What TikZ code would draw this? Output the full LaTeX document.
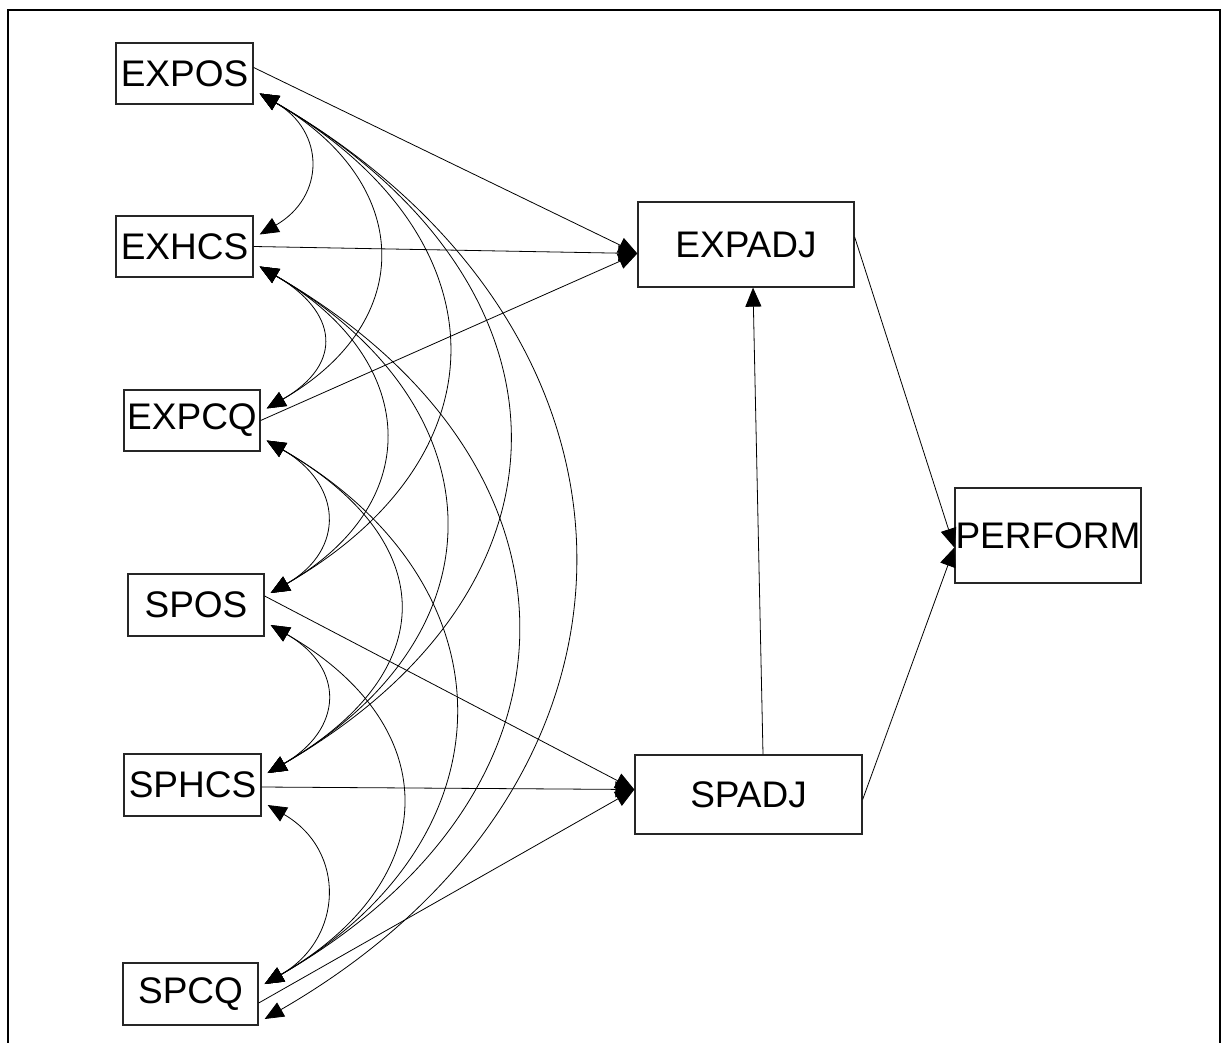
\documentclass[tikz,border=0pt]{standalone}
\usepackage{fontspec}
\setmainfont{Liberation Sans}
\usetikzlibrary{arrows.meta}

\begin{document}
\begin{tikzpicture}[x=1pt,y=1pt,
  var/.style={draw=black!85, line width=1.3pt, fill=white, inner sep=0pt,
    font=\fontsize{37}{40}\selectfont},
  tip/.tip={Triangle[length=19pt,width=16pt]},
  cov/.style={line width=0.8pt, {tip}-{tip}, out=-30, in=30},
  effect/.style={line width=0.8pt, -{tip}},
]
\useasboundingbox (0,0) rectangle (1228,-1043);
\fill[white] (0,0) rectangle (1228,-1043);
% outer frame
\draw[line width=2pt] (8,-1050) -- (8,-10) -- (1220,-10) -- (1220,-1050);

% observed variables
\node[var, minimum width=137pt, minimum height=61pt] (EXPOS) at (184.5,-73.5) {EXPOS};
\node[var, minimum width=137pt, minimum height=61pt] (EXHCS) at (184.5,-246.5) {EXHCS};
\node[var, minimum width=136pt, minimum height=61pt] (EXPCQ) at (192,-420.5) {EXPCQ};
\node[var, minimum width=136pt, minimum height=62pt] (SPOS) at (196,-605) {SPOS};
\node[var, minimum width=137pt, minimum height=62pt] (SPHCS) at (192.5,-785) {SPHCS};
\node[var, minimum width=135pt, minimum height=62pt] (SPCQ) at (190.5,-994) {SPCQ};
\node[var, minimum width=216pt, minimum height=85pt] (EXPADJ) at (746,-244.5) {EXPADJ};
\node[var, minimum width=227pt, minimum height=79pt] (SPADJ) at (748.5,-794.5) {SPADJ};
\node[var, minimum width=186pt, minimum height=95pt] (PERFORM) at (1048,-535.5) {PERFORM};

% attachment points of the covariance arcs
\foreach \v in {EXPOS,EXHCS,EXPCQ,SPOS,SPHCS,SPCQ}{
  \coordinate (\v-u) at ([shift={(6,12)}]\v.east);
  \coordinate (\v-d) at ([shift={(6,-20)}]\v.east);
}
\coordinate (SPCQ-u) at ([shift={(6,10)}]SPCQ.east);
\coordinate (SPCQ-low) at ([shift={(6,-25)}]SPCQ.east);

% covariances
\draw[cov, looseness=1.38] (EXPOS-d) to (EXHCS-u);
\draw[cov, looseness=1.43] (EXPOS-d) to (EXPCQ-u);
\draw[cov, looseness=1.43] (EXPOS-d) to (SPOS-u);
\draw[cov, looseness=1.41] (EXPOS-d) to (SPHCS-u);
\draw[cov, looseness=1.32] (EXPOS-d) to (SPCQ-low);
\draw[cov, looseness=1.62] (EXHCS-d) to (EXPCQ-u);
\draw[cov, looseness=1.43] (EXHCS-d) to (SPOS-u);
\draw[cov, looseness=1.40] (EXHCS-d) to (SPHCS-u);
\draw[cov, looseness=1.39] (EXHCS-d) to (SPCQ-u);
\draw[cov, looseness=1.46] (EXPCQ-d) to (SPOS-u);
\draw[cov, looseness=1.55] (EXPCQ-d) to (SPHCS-u);
\draw[cov, looseness=1.36] (EXPCQ-d) to (SPCQ-u);
\draw[cov, looseness=1.50] (SPOS-d) to (SPHCS-u);
\draw[cov, looseness=1.46] (SPOS-d) to (SPCQ-u);
\draw[cov, looseness=1.30] (SPHCS-d) to (SPCQ-u);

% regression paths
\coordinate (EXPADJ-in) at ([yshift=-9]EXPADJ.west);
\coordinate (SPADJ-in) at ([yshift=5]SPADJ.west);
\coordinate (PERFORM-in) at ([yshift=-12]PERFORM.west);

\draw[effect] ([yshift=6]EXPOS.east) -- (EXPADJ-in);
\draw[effect] (EXHCS.east) -- (EXPADJ-in);
\draw[effect] (EXPCQ.east) -- (EXPADJ-in);
\draw[effect] ([yshift=9]SPOS.east) -- (SPADJ-in);
\draw[effect] ([yshift=-2]SPHCS.east) -- (SPADJ-in);
\draw[effect] ([yshift=-9]SPCQ.east) -- (SPADJ-in);
\draw[effect] ([xshift=14.5]SPADJ.north) -- ([xshift=7]EXPADJ.south);
\draw[effect] ([yshift=7.5]EXPADJ.east) -- (PERFORM-in);
\draw[effect] ([yshift=-5]SPADJ.east) -- (PERFORM-in);
\end{tikzpicture}
\end{document}
